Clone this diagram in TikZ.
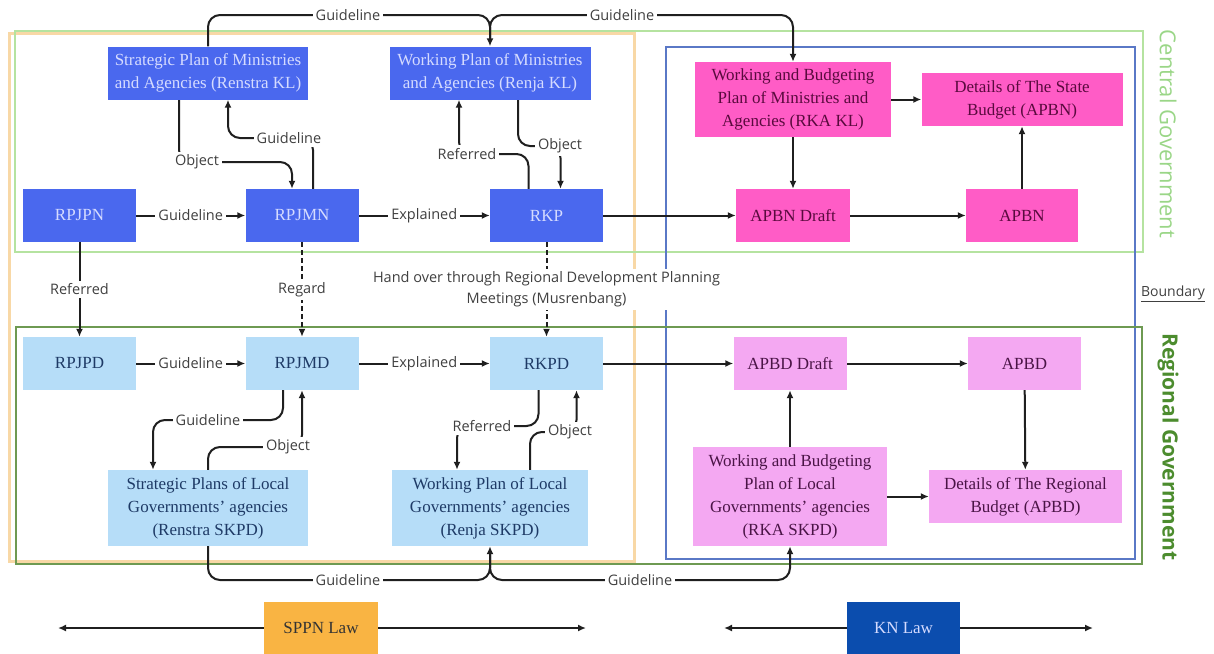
\documentclass[tikz,border=0pt]{standalone}
\usepackage{fontspec}
\setmainfont{Liberation Serif}
\newfontfamily\lblfont{Open Sans}
\usetikzlibrary{arrows.meta,positioning,calc,backgrounds}
\definecolor{natblue}{HTML}{4A68EE}
\definecolor{nattext}{HTML}{D5DBFF}
\definecolor{natpink}{HTML}{FF5CC6}
\definecolor{pinktext}{HTML}{5A0A3E}
\definecolor{regblue}{HTML}{B6DDF8}
\definecolor{regtext}{HTML}{1E3A66}
\definecolor{reglilac}{HTML}{F4A8F2}
\definecolor{lilactext}{HTML}{4A1446}
\definecolor{sppnorange}{HTML}{F9B443}
\definecolor{knblue}{HTML}{0B4DAE}
\definecolor{centralgreen}{HTML}{B5E3A0}
\definecolor{centraltext}{HTML}{9AD687}
\definecolor{regionalgreen}{HTML}{6E9A52}
\definecolor{regionaltext}{HTML}{4C8C2E}
\definecolor{boundblue}{HTML}{5A78C6}
\definecolor{sppnframe}{HTML}{F8D8A6}
\tikzset{
  box/.style={inner sep=2pt,align=center,font=\fontsize{17}{23}\selectfont},
  natbox/.style={box,fill=natblue,text=nattext},
  pinkbox/.style={box,fill=natpink,text=pinktext},
  regbox/.style={box,fill=regblue,text=regtext},
  lilacbox/.style={box,fill=reglilac,text=lilactext},
  arrow/.style={-{Latex[length=8pt,width=7pt]},line width=2pt,black!88},
  conn/.style={arrow,rounded corners=12pt},
  edgelabel/.style={font=\lblfont\fontsize{14.5}{21}\selectfont,text=black!75,fill=white,inner sep=3pt},
  sidelabel/.style={font=\lblfont\fontsize{22}{26}\selectfont,rotate=-90}
}

\begin{document}
\begin{tikzpicture}[x=1pt,y=-1pt]
  \useasboundingbox (0,0) rectangle (1214,653);

  % Central government
  \node[natbox,minimum width=200pt,minimum height=53pt] (rsk) at (208,73) {Strategic Plan of Ministries\\and Agencies (Renstra KL)};
  \node[natbox,minimum width=201pt,minimum height=53pt] (rjk) at (490,73) {Working Plan of Ministries\\and Agencies (Renja KL)};
  \node[pinkbox,minimum width=196pt,minimum height=75pt] (rkakl) at (793,99.5) {Working and Budgeting\\Plan of Ministries and\\Agencies (RKA KL)};
  \node[pinkbox,minimum width=201pt,minimum height=53pt] (dsb) at (1022,99.5) {Details of The State\\Budget (APBN)};
  \node[natbox,minimum width=113pt,minimum height=53pt] (rpjpn) at (79.5,215.5) {RPJPN};
  \node[natbox,minimum width=113pt,minimum height=53pt] (rpjmn) at (302,215.5) {RPJMN};
  \node[natbox,minimum width=113pt,minimum height=53pt] (rkp) at (546.5,215.5) {RKP};
  \node[pinkbox,minimum width=114pt,minimum height=53pt] (apbnd) at (793,215.5) {APBN Draft};
  \node[pinkbox,minimum width=112pt,minimum height=53pt] (apbn) at (1022,215.5) {APBN};

  % Regional government
  \node[regbox,minimum width=113pt,minimum height=53pt] (rpjpd) at (79.5,363.5) {RPJPD};
  \node[regbox,minimum width=113pt,minimum height=53pt] (rpjmd) at (302,363.5) {RPJMD};
  \node[regbox,minimum width=113pt,minimum height=53pt] (rkpd) at (546.5,363.5) {RKPD};
  \node[lilacbox,minimum width=113pt,minimum height=53pt] (apbdd) at (790,363.5) {APBD Draft};
  \node[lilacbox,minimum width=113pt,minimum height=53pt] (apbd) at (1024.5,363.5) {APBD};
  \node[regbox,minimum width=200pt,minimum height=76pt] (rss) at (208,508) {Strategic Plans of Local\\Governments' agencies\\(Renstra SKPD)};
  \node[regbox,minimum width=196pt,minimum height=76pt] (rjs) at (490,508) {Working Plan of Local\\Governments' agencies\\(Renja SKPD)};
  \node[lilacbox,minimum width=194pt,minimum height=99pt] (rkas) at (790,496.5) {Working and Budgeting\\Plan of Local\\Governments' agencies\\(RKA SKPD)};
  \node[lilacbox,minimum width=193pt,minimum height=53pt] (drb) at (1025.5,496.5) {Details of The Regional\\Budget (APBD)};

  % Laws
  \node[box,fill=sppnorange,text=black!80,minimum width=114pt,minimum height=52pt] (sppn) at (321,628) {SPPN Law};
  \node[box,fill=knblue,text=nattext,minimum width=113pt,minimum height=52pt] (knlaw) at (903.5,628) {KN Law};
  \coordinate (sppnl) at (58,628);
  \coordinate (sppnr) at (586,628);
  \coordinate (knl) at (724,628);
  \coordinate (knr) at (1093,628);

  % Labels of the bent connectors
  \node[edgelabel] (g1) at (348,15) {Guideline};
  \node[edgelabel] (g2) at (622,15) {Guideline};
  \node[edgelabel] (o1) at (197,162) {Object};
  \node[edgelabel] (g3) at (289,138) {Guideline};
  \node[edgelabel] (r1) at (467,154) {Referred};
  \node[edgelabel] (o2) at (560,146) {Object};
  \node[edgelabel] (g4) at (208,420) {Guideline};
  \node[edgelabel] (o3) at (288,447) {Object};
  \node[edgelabel] (r2) at (482,426) {Referred};
  \node[edgelabel] (o4) at (570,432) {Object};
  \node[edgelabel] (g5) at (348,580) {Guideline};
  \node[edgelabel] (g6) at (640,580) {Guideline};

  \node[sidelabel,text=centraltext] (cgov) at (1168,134) {Central Government};
  \node[sidelabel,text=regionaltext,font=\lblfont\bfseries\fontsize{21}{26}\selectfont] (rgov) at (1168,447) {Regional Government};
  \node[font=\lblfont\fontsize{14}{17}\selectfont,text=black!75] (bnd) at (1173,294) {\underline{Boundary}};

  \begin{scope}[on background layer]
    % Frames
    \draw[sppnframe,line width=3pt] (9,33) rectangle (634,561);
    \draw[centralgreen,line width=2pt] (15,31) rectangle (1143,252);
    \draw[boundblue,line width=2pt] (666,47) rectangle (1135,559);
    \draw[regionalgreen,line width=2.5pt] (16,327) rectangle (1142,564);

    \draw[conn] (rsk.north) |- (g1.center) -| (rjk.north);
    \draw[conn] ([yshift=8pt]rjk.north) |- (g2.center) -| (rkakl.north);
    \draw[conn] ([xshift=-29pt]rsk.south) |- (o1.center) -| ([xshift=-10pt]rpjmn.north);
    \draw[conn] ([xshift=11pt]rpjmn.north) |- (g3.center) -| ([xshift=20pt]rsk.south);
    \draw[conn] ([xshift=-18pt]rkp.north) |- (r1.center) -| ([xshift=-31pt]rjk.south);
    \draw[conn] ([xshift=28pt]rjk.south) |- (o2.center) -| ([xshift=14pt]rkp.north);

    \draw[arrow] (rpjpn) -- node[edgelabel] (g7) {Guideline} (rpjmn);
    \draw[arrow] (rpjmn) -- node[edgelabel] (e1) {Explained} (rkp);
    \draw[arrow] (rkp) -- (apbnd);
    \draw[arrow] (rkakl) -- (apbnd);
    \draw[arrow] (rkakl) -- (dsb);
    \draw[arrow] (apbnd) -- (apbn);
    \draw[arrow] (apbn) -- (dsb);

    \draw[arrow] (rpjpn) -- node[edgelabel] (r3) {Referred} (rpjpd);
    \draw[arrow,dash pattern=on 5pt off 3pt] (rpjmn) -- node[edgelabel] (rg) {Regard} (rpjmd);
    \draw[arrow,dash pattern=on 5pt off 3pt] (rkp) -- node[edgelabel,align=center] (hand) {Hand over through Regional Development Planning\\Meetings (Musrenbang)} (rkpd);

    \draw[arrow] (rpjpd) -- node[edgelabel] (g8) {Guideline} (rpjmd);
    \draw[arrow] (rpjmd) -- node[edgelabel] (e2) {Explained} (rkpd);
    \draw[arrow] (rkpd) -- (apbdd);
    \draw[arrow] (rkas) -- (apbdd);
    \draw[arrow] (apbdd) -- (apbd);
    \draw[arrow] (apbd) -- (drb);
    \draw[arrow] (rkas) -- (drb);

    \draw[conn] ([xshift=-19pt]rpjmd.south) |- (g4.center) -| ([xshift=-55pt]rss.north);
    \draw[conn] (rss.north) |- (o3.center) -| (rpjmd.south);
    \draw[conn] ([xshift=-8pt]rkpd.south) |- (r2.center) -| ([xshift=-33pt]rjs.north);
    \draw[conn] ([xshift=40pt]rjs.north) |- (o4.center) -| ([xshift=30pt]rkpd.south);
    \draw[conn] (rss.south) |- (g5.center) -| (rjs.south);
    \draw[conn] ([yshift=-8pt]rjs.south) |- (g6.center) -| (rkas.south);

    \draw[arrow] (sppn) -- (sppnl);
    \draw[arrow] (sppn) -- (sppnr);
    \draw[arrow] (knlaw) -- (knl);
    \draw[arrow] (knlaw) -- (knr);
  \end{scope}
\end{tikzpicture}
\end{document}
